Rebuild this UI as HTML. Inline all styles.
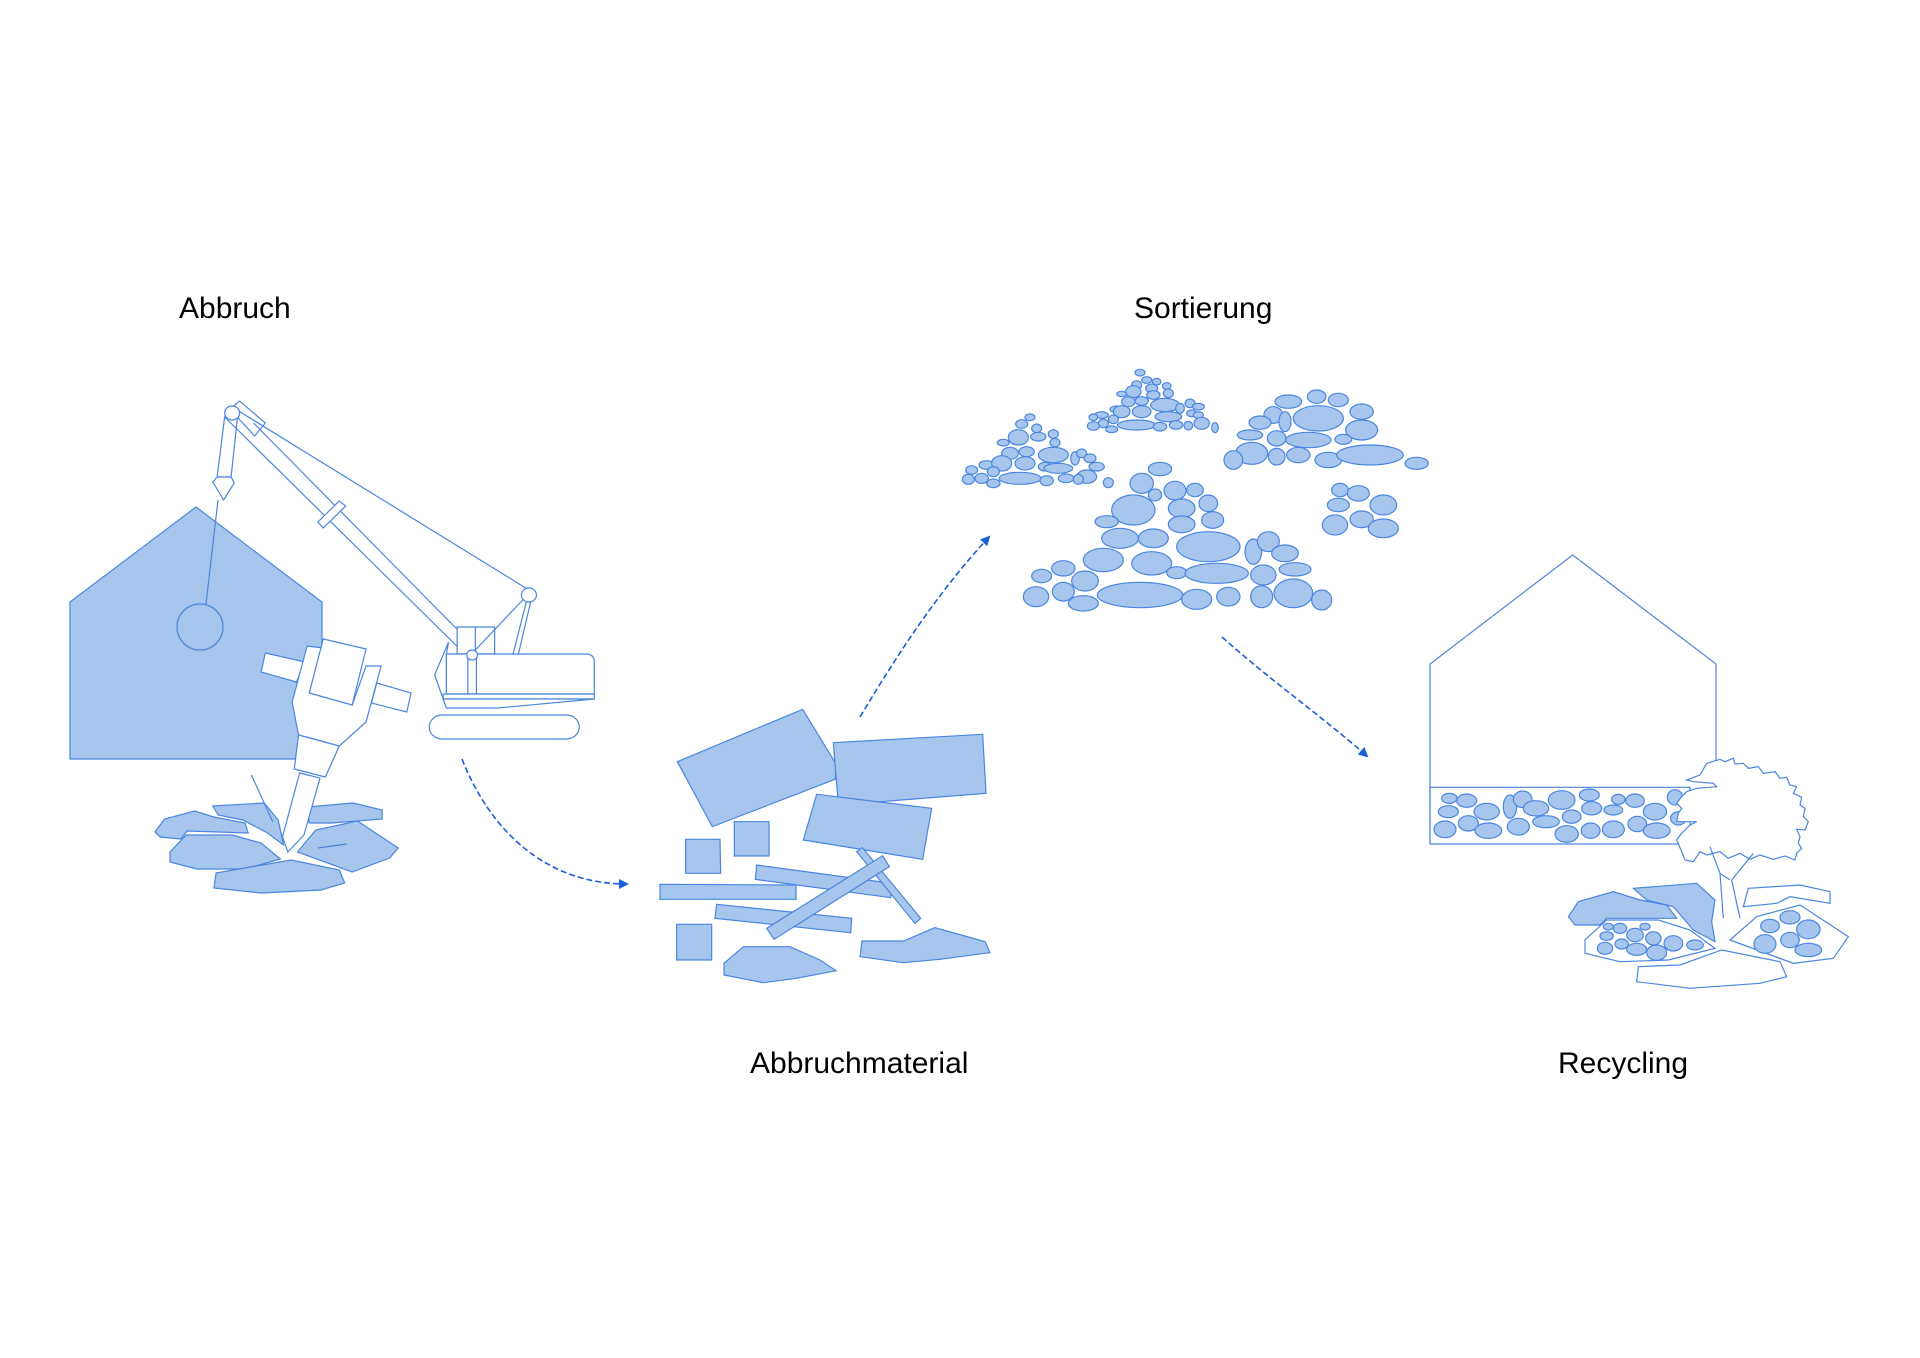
<!DOCTYPE html>
<html><head><meta charset="utf-8"><style>
html,body{margin:0;padding:0;background:#fff;}
svg{display:block}
text{font-family:"Liberation Sans",sans-serif;font-size:30px;fill:#000}
.f{fill:#a6c6ee;stroke:#4a86e0;stroke-width:1.2;vector-effect:non-scaling-stroke}
.o{fill:#fff;stroke:#4a86e0;stroke-width:1.2;vector-effect:non-scaling-stroke}
.l{fill:none;stroke:#4a86e0;stroke-width:1.2;vector-effect:non-scaling-stroke}
.a{fill:none;stroke:#1a5fd8;stroke-width:1.6;stroke-dasharray:6 3}
</style></head><body>
<svg width="1920" height="1358" viewBox="0 0 1920 1358" xmlns="http://www.w3.org/2000/svg">
<defs><marker id="ar" markerWidth="10" markerHeight="10" refX="8" refY="5" orient="auto" markerUnits="userSpaceOnUse"><path d="M0,0 L10,5 L0,10 z" fill="#1a5fd8"/></marker></defs>
<text x="179" y="318">Abbruch</text>
<text x="1134" y="318">Sortierung</text>
<text x="750" y="1073">Abbruchmaterial</text>
<text x="1558" y="1073">Recycling</text>

<!-- Abbruch -->
<polygon class="f" points="70,602 196,507 322,602 322,759 70,759"/>
<circle class="f" cx="200" cy="627" r="23"/>
<line class="l" x1="218" y1="500" x2="206" y2="604"/>
<g transform="translate(50,0) scale(1.0714,1) translate(-50,0)">
<polygon class="o" points="213,417 225,417 219,477 206,477"/>
<polygon class="o" points="206,477 219,477 222,483 212,500 202,482"/>
<polygon class="o" points="218,409 227,401 251,423 241,436"/>
<line class="l" x1="213" y1="417" x2="440" y2="657"/>
<line class="l" x1="240" y1="423" x2="449" y2="650"/>
<polygon class="o" points="300,522 320,501 326,506 305,528"/>
<line class="l" x1="223" y1="409" x2="497" y2="590"/>
<rect class="o" x="430" y="627" width="35" height="27"/>
<line class="l" x1="447" y1="627" x2="447" y2="654"/>
<polygon class="o" points="422,642 409,675 420,708 420,654"/>
<path class="o" d="M420,654 H550 Q558,654 558,662 V694 H420 Z"/>
<line class="l" x1="440" y1="654" x2="440" y2="694"/>
<line class="l" x1="448" y1="654" x2="448" y2="694"/>
<rect class="o" x="417" y="694" width="141" height="5"/>
<polygon class="o" points="417,699 558,699 468,708 420,708"/>
<rect class="o" x="404" y="715" width="140" height="24" rx="12"/>
<line class="l" x1="493" y1="598" x2="447" y2="650"/>
<line class="l" x1="495" y1="600" x2="482" y2="655"/>
<line class="l" x1="499" y1="600" x2="487" y2="655"/>
<circle class="o" cx="497" cy="595" r="7"/>
<circle class="o" cx="444" cy="655" r="5"/>
<circle class="o" cx="220" cy="413" r="7"/>
<polygon class="f" points="148,832 157,819 185,811 203,817 232,823 235,833 178,831 172,839 153,837"/>
<polygon class="f" points="162,852 177,835 220,835 247,843 265,859 232,869 187,869 162,862"/>
<polygon class="f" points="205,873 275,860 320,870 325,883 303,890 247,893 203,888"/>
<polygon class="f" points="281,852 298,830 337,821 375,848 367,858 332,872"/>
<polygon class="f" points="202,806 250,803 263,820 268,845 253,833 230,820 207,815"/>
<polygon class="f" points="290,807 333,803 360,810 360,819 313,823 292,823"/>
<line class="l" x1="238" y1="775" x2="258" y2="822"/>
<line class="l" x1="300" y1="848" x2="327" y2="844"/>
<polygon class="o" points="251,653 288,662 280,682 247,672"/>
<polygon class="o" points="355,683 387,693 383,712 350,703"/>
<polygon class="o" points="290,646 305,648 292,693 332,705 345,666 359,666 345,722 320,746 282,735 276,702"/>
<polygon class="o" points="305,639 345,649 332,705 292,693"/>
<polygon class="o" points="282,735 320,746 307,777 278,769"/>
<polygon class="o" points="283,773 302,778 287,835 272,852 267,837"/>
</g>

<path class="a" d="M462,759 C490,830 545,884 627,884" marker-end="url(#ar)"/>
<path class="a" d="M860,717 C900,650 940,590 989,537" marker-end="url(#ar)"/>
<path class="a" d="M1222,637 C1270,680 1320,715 1367,756" marker-end="url(#ar)"/>

<!-- Abbruchmaterial -->
<g transform="translate(650,700) scale(0.33333)">
<polygon class="f" points="82,185 458,28 560,195 555,238 187,380"/>
<polygon class="f" points="550,128 998,103 1008,280 565,315"/>
<polygon class="f" points="500,283 845,325 818,478 460,420"/>
<polygon class="f" points="107,418 210,418 212,520 107,520"/>
<polygon class="f" points="253,365 357,365 357,468 253,468"/>
<polygon class="f" points="80,673 185,673 185,780 80,780"/>
<polygon class="f" points="30,553 438,555 438,598 30,598"/>
<polygon class="f" points="320,495 725,550 722,593 316,538"/>
<polygon class="f" points="200,613 605,655 602,698 195,655"/>
<polygon class="f" points="620,455 637,443 812,655 795,670"/>
<polygon class="f" points="350,685 698,467 718,500 372,718"/>
<polygon class="f" points="222,790 280,740 420,740 510,780 558,812 440,835 340,848 222,825"/>
<polygon class="f" points="630,770 636,723 760,723 855,683 1005,725 1020,758 870,778 760,788"/>
</g>

<!-- Sortierung -->
<g transform="translate(960,360) scale(0.33333)">
<ellipse class="f" cx="600" cy="327" rx="35" ry="20"/><ellipse class="f" cx="545" cy="370" rx="35" ry="30"/><ellipse class="f" cx="585" cy="405" rx="20" ry="18"/><ellipse class="f" cx="645" cy="392" rx="33" ry="28"/><ellipse class="f" cx="705" cy="390" rx="25" ry="20"/><ellipse class="f" cx="520" cy="450" rx="65" ry="45"/><ellipse class="f" cx="665" cy="445" rx="40" ry="28"/><ellipse class="f" cx="745" cy="430" rx="28" ry="25"/><ellipse class="f" cx="440" cy="485" rx="35" ry="18"/><ellipse class="f" cx="665" cy="493" rx="40" ry="25"/><ellipse class="f" cx="758" cy="480" rx="33" ry="25"/><ellipse class="f" cx="480" cy="535" rx="55" ry="30"/><ellipse class="f" cx="580" cy="535" rx="45" ry="28"/><ellipse class="f" cx="745" cy="560" rx="95" ry="45"/><ellipse class="f" cx="430" cy="600" rx="60" ry="35"/><ellipse class="f" cx="575" cy="610" rx="60" ry="35"/><ellipse class="f" cx="880" cy="575" rx="25" ry="38"/><ellipse class="f" cx="925" cy="545" rx="33" ry="30"/><ellipse class="f" cx="975" cy="580" rx="40" ry="25"/><ellipse class="f" cx="310" cy="625" rx="35" ry="23"/><ellipse class="f" cx="245" cy="648" rx="30" ry="20"/><ellipse class="f" cx="375" cy="663" rx="40" ry="30"/><ellipse class="f" cx="650" cy="638" rx="30" ry="18"/><ellipse class="f" cx="770" cy="640" rx="95" ry="30"/><ellipse class="f" cx="910" cy="645" rx="38" ry="30"/><ellipse class="f" cx="1005" cy="628" rx="48" ry="20"/><ellipse class="f" cx="228" cy="710" rx="38" ry="30"/><ellipse class="f" cx="310" cy="695" rx="33" ry="28"/><ellipse class="f" cx="370" cy="730" rx="45" ry="23"/><ellipse class="f" cx="540" cy="705" rx="128" ry="38"/><ellipse class="f" cx="710" cy="718" rx="45" ry="30"/><ellipse class="f" cx="805" cy="710" rx="35" ry="28"/><ellipse class="f" cx="905" cy="710" rx="33" ry="33"/><ellipse class="f" cx="1000" cy="700" rx="58" ry="43"/><ellipse class="f" cx="1085" cy="720" rx="30" ry="30"/>
<ellipse class="f" cx="985" cy="125" rx="40" ry="20"/><ellipse class="f" cx="1070" cy="110" rx="28" ry="20"/><ellipse class="f" cx="1135" cy="120" rx="30" ry="20"/><ellipse class="f" cx="1205" cy="155" rx="35" ry="23"/><ellipse class="f" cx="940" cy="165" rx="28" ry="25"/><ellipse class="f" cx="975" cy="185" rx="18" ry="30"/><ellipse class="f" cx="1075" cy="175" rx="75" ry="38"/><ellipse class="f" cx="900" cy="188" rx="33" ry="20"/><ellipse class="f" cx="1205" cy="210" rx="48" ry="30"/><ellipse class="f" cx="870" cy="225" rx="38" ry="15"/><ellipse class="f" cx="950" cy="235" rx="28" ry="23"/><ellipse class="f" cx="1045" cy="240" rx="68" ry="23"/><ellipse class="f" cx="1150" cy="238" rx="25" ry="15"/><ellipse class="f" cx="875" cy="280" rx="48" ry="33"/><ellipse class="f" cx="950" cy="290" rx="25" ry="25"/><ellipse class="f" cx="1015" cy="285" rx="35" ry="23"/><ellipse class="f" cx="1105" cy="300" rx="40" ry="23"/><ellipse class="f" cx="1230" cy="285" rx="100" ry="30"/><ellipse class="f" cx="820" cy="300" rx="28" ry="28"/><ellipse class="f" cx="1370" cy="310" rx="35" ry="18"/>
<ellipse class="f" cx="1140" cy="390" rx="25" ry="20"/><ellipse class="f" cx="1195" cy="400" rx="33" ry="23"/><ellipse class="f" cx="1270" cy="435" rx="40" ry="30"/><ellipse class="f" cx="1135" cy="435" rx="33" ry="20"/><ellipse class="f" cx="1205" cy="478" rx="35" ry="25"/><ellipse class="f" cx="1125" cy="495" rx="38" ry="30"/><ellipse class="f" cx="1270" cy="505" rx="45" ry="28"/>
<ellipse class="f" cx="210" cy="172" rx="15" ry="10"/><ellipse class="f" cx="185" cy="192" rx="18" ry="13"/><ellipse class="f" cx="230" cy="205" rx="15" ry="13"/><ellipse class="f" cx="280" cy="222" rx="15" ry="13"/><ellipse class="f" cx="175" cy="232" rx="30" ry="23"/><ellipse class="f" cx="235" cy="230" rx="23" ry="13"/><ellipse class="f" cx="285" cy="248" rx="15" ry="13"/><ellipse class="f" cx="130" cy="248" rx="18" ry="10"/><ellipse class="f" cx="150" cy="280" rx="25" ry="18"/><ellipse class="f" cx="200" cy="275" rx="23" ry="15"/><ellipse class="f" cx="280" cy="285" rx="45" ry="23"/><ellipse class="f" cx="345" cy="295" rx="13" ry="20"/><ellipse class="f" cx="365" cy="280" rx="15" ry="13"/><ellipse class="f" cx="80" cy="315" rx="23" ry="13"/><ellipse class="f" cx="125" cy="310" rx="30" ry="23"/><ellipse class="f" cx="195" cy="310" rx="30" ry="20"/><ellipse class="f" cx="255" cy="320" rx="20" ry="13"/><ellipse class="f" cx="295" cy="325" rx="43" ry="15"/><ellipse class="f" cx="390" cy="295" rx="18" ry="13"/><ellipse class="f" cx="410" cy="320" rx="23" ry="13"/><ellipse class="f" cx="35" cy="330" rx="18" ry="13"/><ellipse class="f" cx="100" cy="335" rx="18" ry="15"/><ellipse class="f" cx="380" cy="350" rx="30" ry="20"/><ellipse class="f" cx="180" cy="355" rx="63" ry="18"/><ellipse class="f" cx="65" cy="355" rx="20" ry="15"/><ellipse class="f" cx="260" cy="362" rx="20" ry="15"/><ellipse class="f" cx="318" cy="355" rx="23" ry="13"/><ellipse class="f" cx="355" cy="358" rx="15" ry="15"/><ellipse class="f" cx="25" cy="358" rx="18" ry="15"/><ellipse class="f" cx="100" cy="370" rx="20" ry="13"/><ellipse class="f" cx="445" cy="368" rx="15" ry="15"/>
<ellipse class="f" cx="540" cy="38" rx="15" ry="10"/><ellipse class="f" cx="560" cy="60" rx="15" ry="10"/><ellipse class="f" cx="530" cy="75" rx="15" ry="13"/><ellipse class="f" cx="590" cy="65" rx="13" ry="10"/><ellipse class="f" cx="575" cy="85" rx="18" ry="13"/><ellipse class="f" cx="620" cy="78" rx="13" ry="10"/><ellipse class="f" cx="520" cy="95" rx="23" ry="18"/><ellipse class="f" cx="580" cy="105" rx="20" ry="13"/><ellipse class="f" cx="625" cy="100" rx="15" ry="13"/><ellipse class="f" cx="485" cy="102" rx="15" ry="8"/><ellipse class="f" cx="505" cy="125" rx="20" ry="15"/><ellipse class="f" cx="545" cy="123" rx="20" ry="13"/><ellipse class="f" cx="615" cy="135" rx="43" ry="20"/><ellipse class="f" cx="690" cy="130" rx="15" ry="13"/><ellipse class="f" cx="470" cy="148" rx="20" ry="10"/><ellipse class="f" cx="545" cy="155" rx="28" ry="18"/><ellipse class="f" cx="660" cy="145" rx="13" ry="15"/><ellipse class="f" cx="715" cy="140" rx="18" ry="10"/><ellipse class="f" cx="485" cy="155" rx="25" ry="18"/><ellipse class="f" cx="625" cy="170" rx="40" ry="15"/><ellipse class="f" cx="695" cy="160" rx="15" ry="10"/><ellipse class="f" cx="425" cy="165" rx="20" ry="10"/><ellipse class="f" cx="400" cy="172" rx="13" ry="10"/><ellipse class="f" cx="715" cy="165" rx="15" ry="10"/><ellipse class="f" cx="430" cy="190" rx="15" ry="13"/><ellipse class="f" cx="460" cy="178" rx="15" ry="13"/><ellipse class="f" cx="530" cy="195" rx="58" ry="15"/><ellipse class="f" cx="600" cy="200" rx="20" ry="13"/><ellipse class="f" cx="648" cy="195" rx="20" ry="13"/><ellipse class="f" cx="685" cy="197" rx="13" ry="13"/><ellipse class="f" cx="725" cy="190" rx="23" ry="18"/><ellipse class="f" cx="400" cy="198" rx="18" ry="13"/><ellipse class="f" cx="455" cy="208" rx="18" ry="10"/><ellipse class="f" cx="765" cy="203" rx="10" ry="15"/>
</g>

<!-- Recycling -->
<g transform="translate(1400,540) scale(0.33333)">
<polyline class="l" points="90,912 90,372 518,45 948,372 948,740"/>
<rect class="l" x="90" y="742" width="780" height="170"/>
<ellipse class="f" cx="148" cy="775" rx="23" ry="15"/><ellipse class="f" cx="200" cy="782" rx="30" ry="20"/><ellipse class="f" cx="145" cy="815" rx="30" ry="18"/><ellipse class="f" cx="260" cy="815" rx="38" ry="25"/><ellipse class="f" cx="135" cy="868" rx="33" ry="25"/><ellipse class="f" cx="205" cy="850" rx="30" ry="23"/><ellipse class="f" cx="265" cy="872" rx="40" ry="23"/><ellipse class="f" cx="330" cy="800" rx="20" ry="35"/><ellipse class="f" cx="368" cy="778" rx="28" ry="25"/><ellipse class="f" cx="408" cy="805" rx="38" ry="23"/><ellipse class="f" cx="355" cy="860" rx="33" ry="25"/><ellipse class="f" cx="485" cy="780" rx="40" ry="28"/><ellipse class="f" cx="438" cy="845" rx="40" ry="18"/><ellipse class="f" cx="515" cy="830" rx="28" ry="20"/><ellipse class="f" cx="500" cy="882" rx="35" ry="25"/><ellipse class="f" cx="568" cy="765" rx="30" ry="18"/><ellipse class="f" cx="575" cy="805" rx="30" ry="20"/><ellipse class="f" cx="572" cy="872" rx="28" ry="23"/><ellipse class="f" cx="640" cy="810" rx="28" ry="15"/><ellipse class="f" cx="655" cy="778" rx="20" ry="15"/><ellipse class="f" cx="640" cy="868" rx="33" ry="25"/><ellipse class="f" cx="705" cy="782" rx="28" ry="20"/><ellipse class="f" cx="765" cy="815" rx="35" ry="25"/><ellipse class="f" cx="712" cy="852" rx="28" ry="23"/><ellipse class="f" cx="770" cy="872" rx="40" ry="23"/><ellipse class="f" cx="825" cy="772" rx="23" ry="23"/><ellipse class="f" cx="835" cy="835" rx="23" ry="20"/>
<polygon class="o" points="860,720 900,705 920,670 960,658 975,665 1000,655 1005,672 1030,670 1045,685 1075,680 1090,700 1125,695 1140,715 1160,712 1170,735 1190,740 1180,760 1205,772 1200,795 1215,805 1210,830 1225,845 1215,870 1190,868 1200,890 1195,910 1205,925 1190,940 1185,960 1155,948 1120,958 1080,945 1050,958 1020,940 985,955 960,935 920,945 900,935 880,965 855,960 845,935 830,900 845,880 870,855 890,845 830,845 835,820 845,805 830,790 845,770 860,755 890,745 950,740 940,730 880,725"/>
<polyline class="l" points="970,1135 960,1000 930,920"/>
<polyline class="l" points="1020,1135 995,1020 1060,940"/>
<polyline class="l" points="960,1000 990,1020"/>
<polygon class="f" points="505,1130 535,1085 640,1055 720,1080 800,1095 830,1135 620,1135 600,1155 525,1155"/>
<polygon class="f" points="700,1045 890,1030 945,1080 935,1145 945,1205 880,1170 820,1100 740,1080"/>
<polygon class="o" points="555,1200 620,1140 775,1140 870,1170 945,1225 805,1260 660,1265 555,1240"/>
<polygon class="o" points="990,1200 1070,1130 1200,1095 1345,1190 1300,1255 1180,1270"/>
<polygon class="o" points="715,1280 840,1275 965,1230 1140,1265 1160,1310 1080,1330 870,1345 710,1325"/>
<polygon class="o" points="1045,1045 1200,1035 1290,1055 1290,1090 1170,1070 1130,1090 1030,1100"/>
<ellipse class="f" cx="625" cy="1160" rx="15" ry="10"/><ellipse class="f" cx="660" cy="1165" rx="20" ry="15"/><ellipse class="f" cx="620" cy="1188" rx="20" ry="13"/><ellipse class="f" cx="705" cy="1185" rx="25" ry="20"/><ellipse class="f" cx="735" cy="1160" rx="15" ry="10"/><ellipse class="f" cx="760" cy="1195" rx="23" ry="20"/><ellipse class="f" cx="665" cy="1212" rx="20" ry="15"/><ellipse class="f" cx="615" cy="1225" rx="23" ry="18"/><ellipse class="f" cx="710" cy="1228" rx="30" ry="18"/><ellipse class="f" cx="820" cy="1210" rx="28" ry="23"/><ellipse class="f" cx="770" cy="1238" rx="30" ry="23"/><ellipse class="f" cx="885" cy="1215" rx="25" ry="15"/><ellipse class="f" cx="1110" cy="1158" rx="28" ry="20"/><ellipse class="f" cx="1170" cy="1132" rx="30" ry="20"/><ellipse class="f" cx="1225" cy="1168" rx="35" ry="28"/><ellipse class="f" cx="1095" cy="1212" rx="33" ry="28"/><ellipse class="f" cx="1170" cy="1200" rx="28" ry="23"/><ellipse class="f" cx="1225" cy="1230" rx="40" ry="20"/>
</g>
</svg>
</body></html>
